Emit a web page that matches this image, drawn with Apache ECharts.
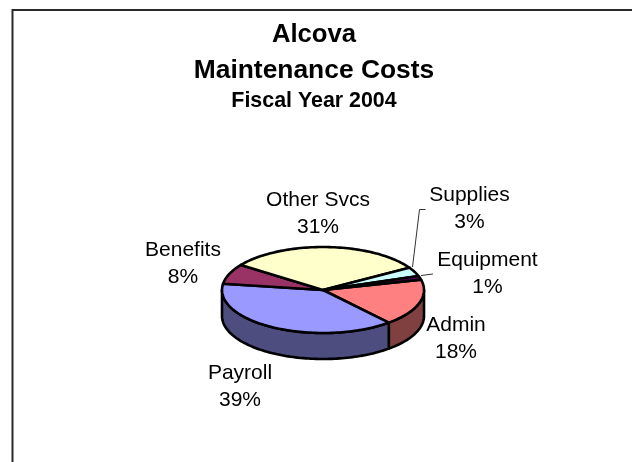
<!DOCTYPE html>
<html>
<head>
<meta charset="utf-8">
<style>html,body{margin:0;padding:0;background:#fff}#c{width:632px;height:462px}</style>
<script src="https://cdn.jsdelivr.net/npm/echarts@6/dist/echarts.min.js"></script>
</head>
<body>
<div id="c"></div>
<script>
const categories = ['Admin', 'Payroll', 'Benefits', 'Other Svcs', 'Supplies', 'Equipment'];
const costShare = [17.6, 38.6, 7.6, 31.4, 3.4, 1.4];

const topColors = ['#FF8080', '#9999FF', '#993366', '#FFFFCC', '#CCFFFF', '#660066'];
const wallColors = ['#804040', '#4D4D80', '#4D1A33', '#808066', '#668080', '#330033'];
const labelCenters = [[456, 338.5], [240, 386.5], [183, 264], [318, 213.5], [469.5, 209], [487.5, 273.5]];
const leaderLines = [
  [[425.5, 209.5], [419.5, 209.5], [412.5, 267]],
  [[433, 274], [421, 275.5]]
];
const pieGeom = { cx: 323, cy: 290, rx: 101, ry: 43, depth: 26, startDeg: -14 };

const total = costShare.reduce((a, b) => a + b, 0);
const sliceRows = [];
let run = 0;
costShare.forEach((v, i) => {
  sliceRows.push({ value: [v, run, run + v, i], name: categories[i] });
  run += v;
});
const toDeg = p => pieGeom.startDeg + p / total * 360;
const pt = (deg, dy) => {
  const r = deg * Math.PI / 180;
  return [pieGeom.cx + pieGeom.rx * Math.cos(r), pieGeom.cy + pieGeom.ry * Math.sin(r) + (dy || 0)];
};
function arc(a, b, dy) {
  const out = [];
  const n = Math.max(2, Math.ceil(Math.abs(b - a) / 1.5));
  for (let k = 0; k <= n; k++) out.push(pt(a + (b - a) * k / n, dy));
  return out;
}
function wallItem(params, api) {
  const a = toDeg(api.value(1)), b = toDeg(api.value(2));
  const s = Math.max(a, 0), e = Math.min(b, 180);
  if (e <= s) return { type: 'group', children: [] };
  const pts = arc(s, e, 0).concat(arc(e, s, pieGeom.depth));
  return {
    type: 'polygon',
    shape: { points: pts },
    style: { fill: wallColors[api.value(3)], stroke: '#000', lineWidth: 2.6, lineJoin: 'round' }
  };
}
function faceItem(params, api) {
  const a = toDeg(api.value(1)), b = toDeg(api.value(2));
  const pts = [[pieGeom.cx, pieGeom.cy]].concat(arc(a, b, 0));
  return {
    type: 'polygon',
    shape: { points: pts },
    style: { fill: topColors[api.value(3)], stroke: '#000', lineWidth: 2.6, lineJoin: 'round' }
  };
}
function labelItem(params, api) {
  const i = api.value(3);
  const c = labelCenters[i];
  return {
    type: 'text',
    style: {
      x: c[0], y: c[1],
      text: categories[i] + '\n' + Math.round(api.value(0) / total * 100) + '%',
      fill: '#000',
      font: '21px "Liberation Sans", Arial, sans-serif',
      lineHeight: 27,
      align: 'center',
      verticalAlign: 'middle'
    }
  };
}
const titleFont = { fontFamily: '"Liberation Sans", Arial, sans-serif', fontWeight: 'bold', color: '#000' };
const chart = echarts.init(document.getElementById('c'), null, { renderer: 'canvas' });
chart.setOption({
  animation: false,
  backgroundColor: '#fff',
  title: [
    { text: 'Alcova', left: 309, top: 17, textAlign: 'center', textStyle: { ...titleFont, fontSize: 25.7 } },
    { text: 'Maintenance Costs', left: 309, top: 53, textAlign: 'center', textStyle: { ...titleFont, fontSize: 26.4 } },
    { text: 'Fiscal Year 2004', left: 309, top: 86, textAlign: 'center', textStyle: { ...titleFont, fontSize: 21.4 } }
  ],
  graphic: [
    { type: 'polyline', shape: { points: [[12.5, 462], [12.5, 10], [632, 10]] }, style: { stroke: '#2a2a2a', lineWidth: 2, fill: null } },
    ...leaderLines.map(p => ({ type: 'polyline', z: 10, shape: { points: p }, style: { stroke: '#333', lineWidth: 1, fill: null } }))
  ],
  series: [
    { type: 'custom', name: 'walls', coordinateSystem: 'none', silent: true, z: 2, renderItem: wallItem, data: sliceRows },
    { type: 'custom', name: 'faces', coordinateSystem: 'none', silent: true, z: 3, renderItem: faceItem, data: sliceRows },
    { type: 'custom', name: 'labels', coordinateSystem: 'none', silent: true, z: 4, renderItem: labelItem, data: sliceRows }
  ]
});
</script>
</body>
</html>
